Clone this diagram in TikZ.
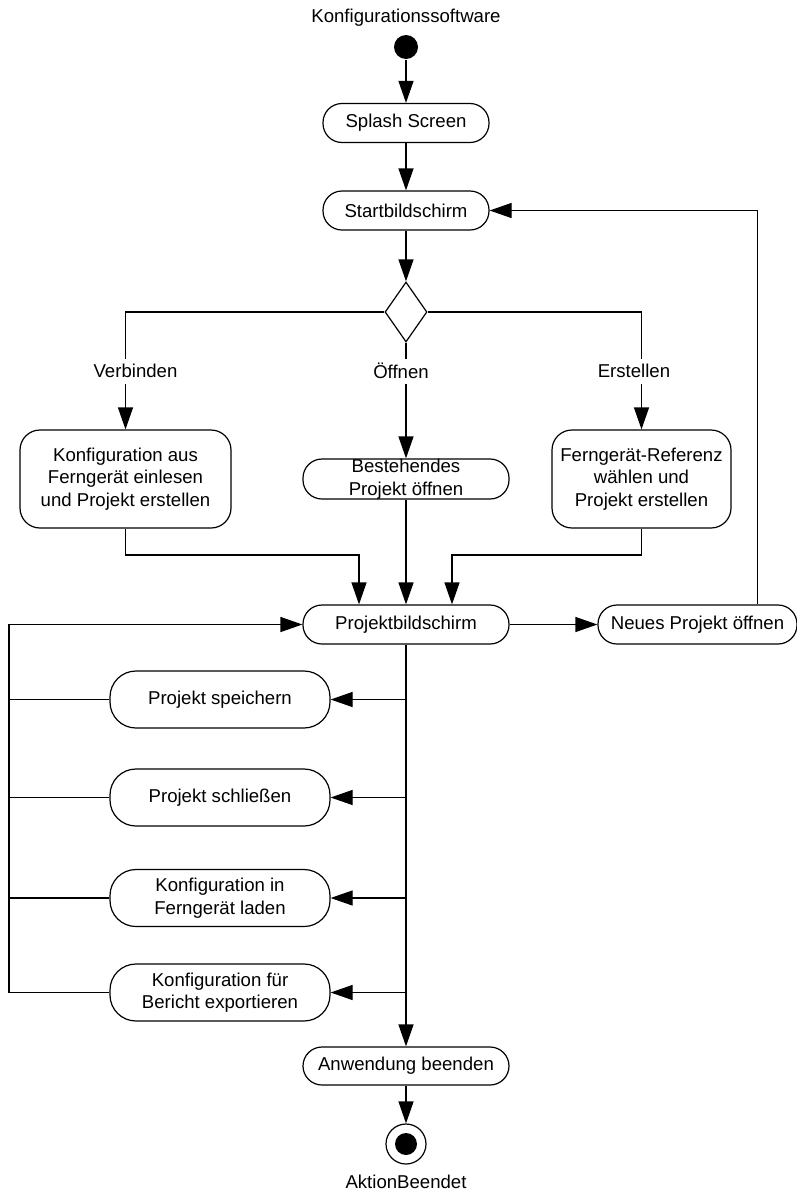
\documentclass[tikz,border=0pt]{standalone}
\usepackage{fontspec}
\setmainfont{Liberation Sans}
\usepackage{tikz}
\usetikzlibrary{arrows.meta,shapes.geometric}

\begin{document}
\begin{tikzpicture}[
    x=1pt, y=-1pt,
    line width=1.2pt,
    every node/.style={font=\fontsize{18.6}{22.5}\selectfont},
    pill/.style={draw, rounded corners=19pt, minimum width=206pt, minimum height=39pt, inner sep=0pt, align=center},
    act/.style={draw, rounded corners=26pt, minimum width=220pt, minimum height=57pt, inner sep=0pt, align=center},
    bigbox/.style={draw, rounded corners=20pt, minimum height=98pt, inner sep=0pt, align=center},
    lbl/.style={fill=white, inner sep=1pt, minimum height=25pt},
    arr/.style={-{Triangle[length=22pt,width=15pt]}}
]
\useasboundingbox (0,0) rectangle (797,1192);

% Start
\node (title) at (406,18) {Konfigurationssoftware};
\node[circle, fill=black, minimum size=24pt, inner sep=0pt] (start) at (406,47) {};
\node[pill, minimum width=166pt] (splash) at (406,123) {Splash Screen};
\node[pill, minimum width=166pt] (startb) at (406,210.5) {Startbildschirm};
\node[diamond, draw, minimum width=42pt, minimum height=60pt, inner sep=0pt] (dec) at (406,312) {};

% Branches
\node[bigbox, minimum width=211pt] (verb) at (125.5,479) {Konfiguration aus\\Ferngerät einlesen\\und Projekt erstellen};
\node[pill, minimum height=40pt] (best) at (406,479) {Bestehendes\\Projekt öffnen};
\node[bigbox, minimum width=179pt] (fref) at (641.5,479) {Ferngerät-Referenz\\wählen und\\Projekt erstellen};

% Project screen
\node[pill] (proj) at (406,624.5) {Projektbildschirm};
\node[pill, minimum width=199pt] (neu) at (697.5,624.5) {Neues Projekt öffnen};
\node[act] (save)  at (220,699.5) {Projekt speichern};
\node[act] (close) at (220,797.5) {Projekt schließen};
\node[act] (load)  at (220,898)   {Konfiguration in\\Ferngerät laden};
\node[act] (expo)  at (220,992.5) {Konfiguration für\\Bericht exportieren};

% End
\node[pill, minimum height=38pt] (quit) at (406,1066) {Anwendung beenden};
\node[circle, draw, minimum size=40pt, inner sep=0pt] (endc) at (406,1144) {};
\node[circle, fill=black, minimum size=22pt, inner sep=0pt] (endd) at (endc) {};
\node (endlbl) at (406,1182) {AktionBeendet};

\coordinate (jl) at (359,555);
\coordinate (jr) at (452,555);
\coordinate (loop) at (9,624.5);

\draw[arr] (start)  -- (splash);
\draw[arr] (splash) -- (startb);
\draw[arr] (startb) -- (dec);
\draw[arr] (dec.west)  -| (verb.north);
\draw[arr] (dec.south) -- (best.north);
\draw[arr] (dec.east)  -| (fref.north);
\node[lbl] (lverb) at (135.5,371) {Verbinden};
\node[lbl] (loeff) at (401,371)   {Öffnen};
\node[lbl] (lerst) at (634,371)   {Erstellen};

\draw[arr] (verb.south) |- (jl) -- (proj.north -| jl);
\draw[arr] (best) -- (proj);
\draw[arr] (fref.south) |- (jr) -- (proj.north -| jr);
\draw[arr] (proj) -- (neu);
\draw[arr] ([xshift=60pt]neu.north) |- (startb.east);

\draw[arr] (proj.south) -- (quit.north);
\draw[arr] (proj.south |- save)  -- (save.east);
\draw[arr] (proj.south |- close) -- (close.east);
\draw[arr] (proj.south |- load)  -- (load.east);
\draw[arr] (proj.south |- expo)  -- (expo.east);
\draw (save.west)  -- (save.west -| loop);
\draw (close.west) -- (close.west -| loop);
\draw (load.west)  -- (load.west -| loop);
\draw[arr] (expo.west) -| (loop) -- (proj.west);
\draw[arr] (quit) -- (endc);
\end{tikzpicture}
\end{document}
